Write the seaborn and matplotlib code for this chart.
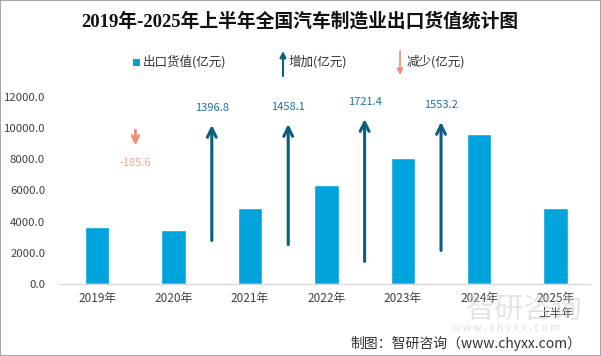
import matplotlib
matplotlib.use("Agg")
import matplotlib.pyplot as plt
import seaborn as sns
import pandas as pd
from matplotlib.patches import Rectangle

# datos
years = ['2019年', '2020年', '2021年', '2022年', '2023年', '2024年', '2025年\n上半年']
export_values = [3660.6, 3475.0, 4871.8, 6329.9, 8051.3, 9604.5, 4870.0]
changes = [-185.6, 1396.8, 1458.1, 1721.4, 1553.2]

# posicion de las flechas (parte superior, en unidades del eje y)
arrow_tops = [9870, 10190, 10250, 10570, 10380]
arrow_scale = 5.3

W, H = 601, 356

sns.set_theme(style="white")
plt.rcParams['font.family'] = ['Noto Sans CJK SC', 'DejaVu Sans']

df = pd.DataFrame({'year': years, 'value': export_values})

fig = plt.figure(figsize=(W / 100, H / 100), dpi=100)
ax = fig.add_axes([59 / W, 1 - 284 / H, 531 / W, (284 - 96.7) / H])


def px(x, y):
    return (x / W, 1 - y / H)


bar_color = '#00a3db'
up_color = '#0d5d80'
down_color = '#f08c78'

sns.barplot(data=df, x='year', y='value', color=bar_color, width=0.32,
            saturation=1, ax=ax)

ax.set_xlim(-0.5, 6.45)
ax.set_ylim(0, 12000)
ax.set_yticks(range(0, 12001, 2000))
ax.set_yticklabels([f'{v:.1f}' for v in range(0, 12001, 2000)])
ax.set_xlabel('')
ax.set_ylabel('')
ax.tick_params(axis='x', labelsize=8.5, colors='#404040', length=0, pad=6)
ax.tick_params(axis='y', labelsize=8.2, colors='#404040', length=0, pad=10)
for s in ['top', 'right', 'left']:
    ax.spines[s].set_visible(False)
ax.spines['bottom'].set_color('#d9d9d9')
ax.spines['bottom'].set_linewidth(1)

# flechas de variacion
for i, (chg, top) in enumerate(zip(changes, arrow_tops)):
    x = i + 0.5
    length = abs(chg) * arrow_scale
    if chg >= 0:
        ax.annotate('', xy=(x, top), xytext=(x, top - length),
                    arrowprops=dict(arrowstyle='->', color=up_color, lw=2.2,
                                    mutation_scale=16, shrinkA=0, shrinkB=0),
                    annotation_clip=False)
        ax.text(x, top + 1090, f'{chg:.1f}', ha='center', va='center',
                fontsize=8, color='#1f6fa6', clip_on=False)
    else:
        ax.annotate('', xy=(x, top - length), xytext=(x, top),
                    arrowprops=dict(arrowstyle='->', color=down_color, lw=2,
                                    mutation_scale=12, shrinkA=0, shrinkB=0),
                    annotation_clip=False)
        ax.text(x, top - length - 1150, f'{chg:.1f}', ha='center', va='center',
                fontsize=8, color='#f4a290', clip_on=False)

# titulo
fig.text(*px(300, 21), '2019年-2025年上半年全国汽车制造业出口货值统计图',
         ha='center', va='center', fontsize=13.5, fontweight='bold',
         color='#111111', family=['Liberation Serif', 'Noto Sans CJK SC'])

# leyenda
fig.patches.append(Rectangle(px(133, 66), 7 / W, 7 / H, transform=fig.transFigure,
                             facecolor=bar_color, edgecolor='none'))
fig.text(*px(143, 62), '出口货值(亿元)', ha='left', va='center', fontsize=9, color='#333333')
fig.patches.append(matplotlib.patches.FancyArrowPatch(
    px(283, 76), px(283, 51), transform=fig.transFigure, arrowstyle='-|>',
    mutation_scale=9, color=up_color, lw=1.5, shrinkA=0, shrinkB=0))
fig.text(*px(289, 62), '增加(亿元)', ha='left', va='center', fontsize=9, color='#333333')
fig.patches.append(matplotlib.patches.FancyArrowPatch(
    px(400, 51), px(400, 75), transform=fig.transFigure, arrowstyle='-|>',
    mutation_scale=9, color=down_color, lw=1.2, shrinkA=0, shrinkB=0))
fig.text(*px(407, 62), '减少(亿元)', ha='left', va='center', fontsize=9, color='#333333')

# marca de agua (detras de todo)
fig.text(*px(524, 310), '智研咨询', ha='center', va='center', fontsize=21,
         color='#c6cacd', alpha=0.5, zorder=0)
fig.text(*px(506, 328), 'w w w . c h y x x . c o m', ha='center', va='center',
         fontsize=7.5, color='#c6cacd', alpha=0.6, zorder=0)

# fuente
fig.text(*px(581, 343), '制图：智研咨询（www.chyxx.com）', ha='right', va='center',
         fontsize=10, color='#333333')

# borde
fig.patches.append(Rectangle((0, 0), 1, 1, transform=fig.transFigure, fill=False,
                             edgecolor='#a6a6a6', linewidth=1.5))

fig.savefig('out.png', dpi=100)
